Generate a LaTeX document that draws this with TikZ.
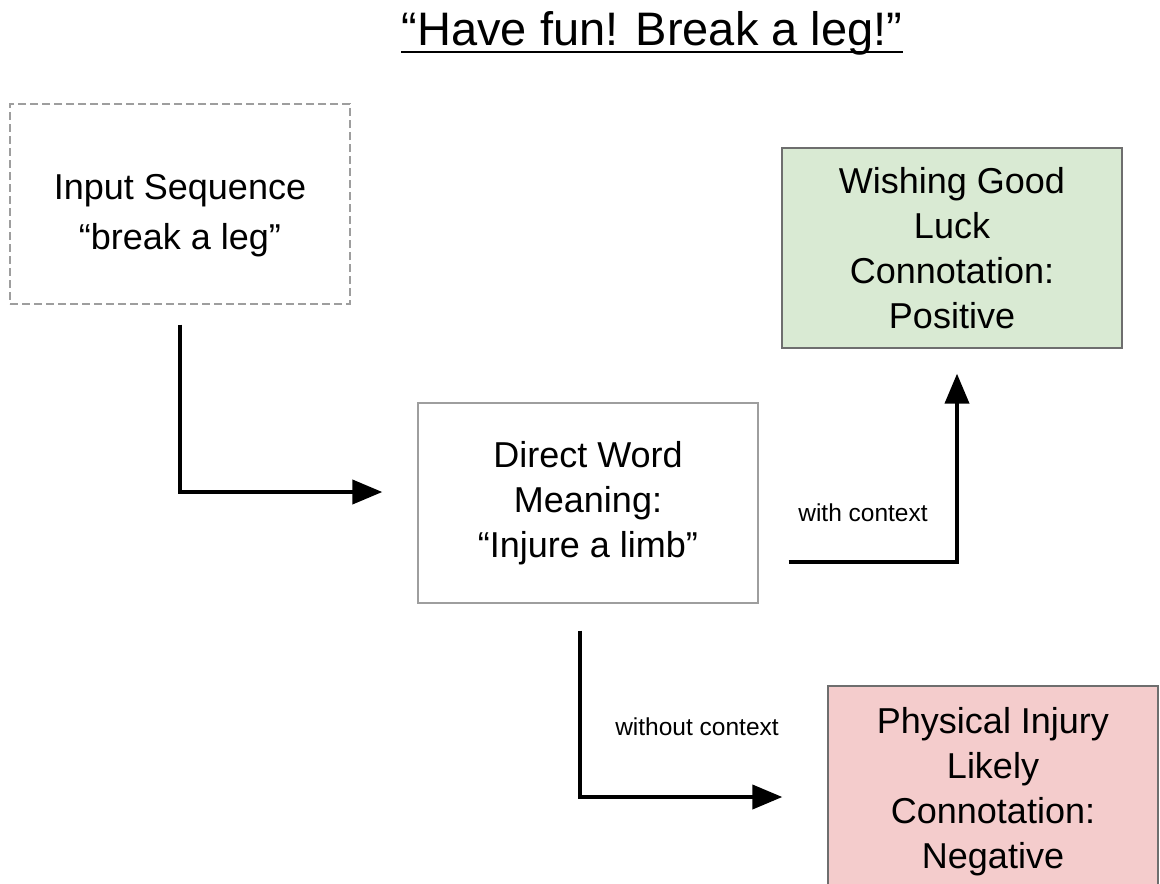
\documentclass[tikz,border=0pt]{standalone}
\usepackage{fontspec}
\setmainfont{Liberation Sans}
\usetikzlibrary{arrows.meta}

\definecolor{goodfill}{HTML}{D9EAD3}
\definecolor{badfill}{HTML}{F4CCCC}
\definecolor{lightline}{HTML}{9E9E9E}
\definecolor{darkline}{HTML}{6E6E6E}

\begin{document}
\begin{tikzpicture}[x=1pt, y=-1pt,
		nodestyle/.style={draw=lightline, line width=1.3pt, minimum width=340pt, minimum height=200pt, inner sep=0pt, align=center, font=\fontsize{36}{45}\selectfont},
		outcome/.style={nodestyle, draw=darkline},
		flow/.style={-{Triangle[length=30pt, width=24pt]}, line width=4pt},
		linetext/.style={inner sep=0pt, font=\fontsize{24.5}{30}\selectfont}
	]
		\useasboundingbox (0, 0) rectangle (1160, 884);

		\node[inner sep=0pt, anchor=base, font=\fontsize{47}{56}\selectfont] (title) at (652, 45) {“Have fun! Break a leg!”};
		\draw[line width=2.5pt] ([yshift=-7pt]title.base west) -- ([yshift=-7pt]title.base east);

		\node[nodestyle, dash pattern=on 8pt off 4pt] (input) at (180, 204) {\raisebox{-11pt}[\height][\depth]{\begin{tabular}{@{}c@{}}Input Sequence\\[5pt]“break a leg”\end{tabular}}};
		\node[nodestyle] (direct) at (588, 503) {Direct Word\\Meaning:\\“Injure a limb”};
		\node[outcome, fill=goodfill] (good) at (952, 248) {Wishing Good\\Luck\\Connotation:\\Positive};
		\node[outcome, fill=badfill, minimum width=330pt, minimum height=212pt] (injury) at (993, 792) {Physical Injury\\Likely\\Connotation:\\Negative};

		\node[linetext] (withctx) at (863, 513) {with context};
		\node[linetext] (withoutctx) at (697, 727) {without context};

		\draw[flow] ([yshift=-20pt]input.south) |- ([xshift=-35pt, yshift=11pt]direct.west);
		\draw[flow] ([xshift=30pt, yshift=-59pt]direct.east) -| ([xshift=5pt, yshift=-25pt]good.south);
		\draw[flow] ([xshift=-8pt, yshift=-27pt]direct.south) |- ([xshift=-45pt, yshift=-5pt]injury.west);
	\end{tikzpicture}
\end{document}
